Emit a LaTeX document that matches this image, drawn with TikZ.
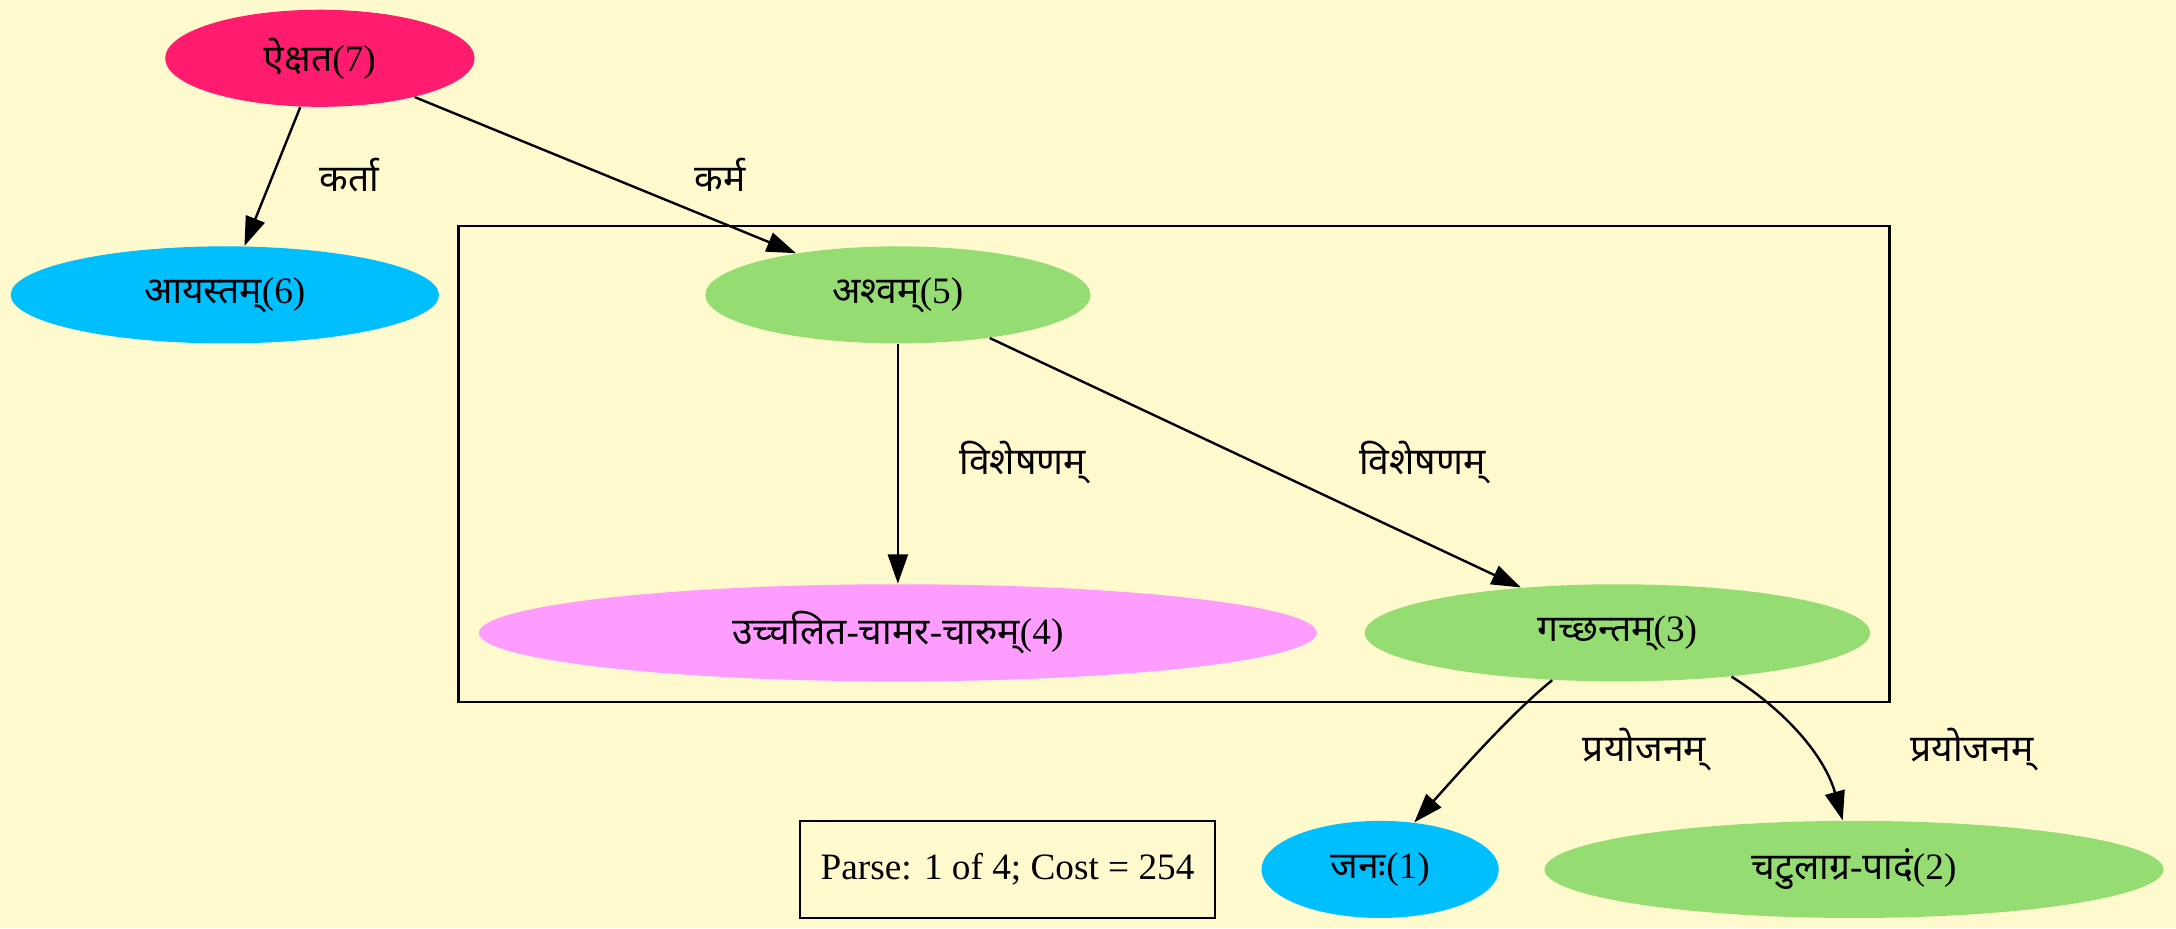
\documentclass[tikz,border=0pt]{standalone}
\usepackage{fontspec}
\setmainfont{Liberation Serif}
\newfontfamily\devfont[Script=Devanagari]{Noto Sans}
\newcommand{\dv}[1]{{\devfont #1}}
\usetikzlibrary{shapes.geometric,arrows.meta}
\definecolor{bgyellow}{HTML}{FFFACD}
\definecolor{wordred}{HTML}{FF1C6E}
\definecolor{wordblue}{HTML}{00BFFF}
\definecolor{wordgreen}{HTML}{95DC73}
\definecolor{wordpink}{HTML}{FF9CFF}
\begin{document}
\begin{tikzpicture}[x=0.5217pt, y=-0.5217pt,
  font=\fontsize{14}{17}\selectfont,
  word/.style={ellipse, minimum height=36.5pt, inner sep=0pt},
  rel/.style={-{Triangle[length=11pt,width=7.5pt]}, line width=0.9pt},
  elabel/.style={inner sep=1pt}]
  \path[use as bounding box, fill=bgyellow] (0,0) rectangle (1568,669);
  % cluster
  \draw[line width=0.9pt] (330.5,163) rectangle (1361.5,506);
  % words
  \node[word, fill=wordred, minimum width=116.3pt] (w7) at (230.5,42) {\dv{ऐक्षत}(7)};
  \node[word, fill=wordblue, minimum width=161pt] (w6) at (162,212.5) {\dv{आयस्तम्}(6)};
  \node[word, fill=wordgreen, minimum width=144.8pt] (w5) at (647,212.5) {\dv{अश्वम्}(5)};
  \node[word, fill=wordpink, minimum width=315pt] (w4) at (647,456) {\dv{उच्चलित}-\dv{चामर}-\dv{चारुम्}(4)};
  \node[word, fill=wordgreen, minimum width=190pt] (w3) at (1165.5,456) {\dv{गच्छन्तम्}(3)};
  \node[word, fill=wordblue, minimum width=89.2pt] (w1) at (994.5,626.5) {\dv{जनः}(1)};
  \node[word, fill=wordgreen, minimum width=232.7pt] (w2) at (1336,626.5) {\dv{चटुलाग्र}-\dv{पादं}(2)};
  \node[draw, line width=0.9pt, minimum width=156pt, minimum height=36.5pt] (parse) at (726,626.5) {Parse: 1 of 4; Cost = 254};
  % relations
  \draw[rel] (w7) -- (w6);
  \draw[rel] (w7) -- (w5);
  \draw[rel] (w5) -- (w4);
  \draw[rel] (w5) -- (w3);
  \draw[rel] (w3.-144) .. controls +(-31,25) and +(27,-30) .. (w1.54);
  \draw[rel] (w3.-21.5) .. controls +(44,28) and +(-12,-43) .. (w2.103);
  % labels
  \node[elabel] (l76) at (252,126) {\dv{कर्ता}};
  \node[elabel] (l75) at (519,126) {\dv{कर्म}};
  \node[elabel] (l54) at (737,333) {\dv{विशेषणम्}};
  \node[elabel] (l53) at (1025,333) {\dv{विशेषणम्}};
  \node[elabel] (l31) at (1185,540) {\dv{प्रयोजनम्}};
  \node[elabel] (l32) at (1421,540) {\dv{प्रयोजनम्}};
\end{tikzpicture}
\end{document}
